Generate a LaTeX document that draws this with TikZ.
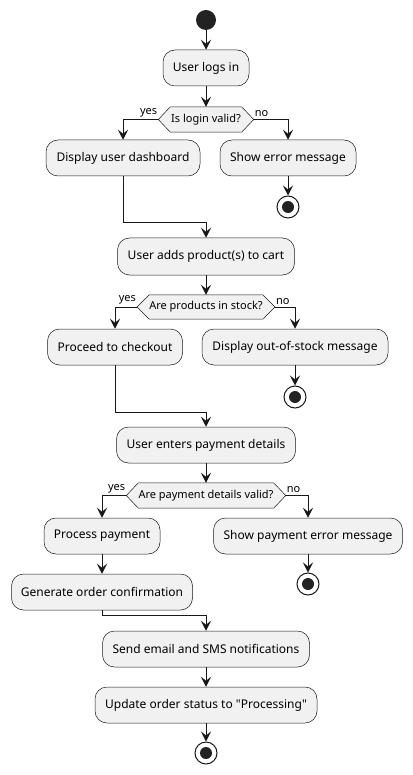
\documentclass[tikz,border=0pt]{standalone}
\usepackage{fontspec}
\setmainfont{Noto Sans}
\newfontfamily\plainsans{Noto Sans}
\usetikzlibrary{arrows.meta,backgrounds}
\definecolor{actfill}{HTML}{F1F1F1}
\definecolor{ink}{HTML}{181818}
\definecolor{dot}{HTML}{222222}
\tikzset{
  act/.style={draw=ink, fill=actfill, line width=0.5pt, rounded corners=12pt, minimum height=36pt, inner sep=0pt, font=\plainsans\fontsize{12pt}{14pt}\selectfont},
  dec/.style={draw=none, minimum height=25pt, inner sep=0pt, font=\plainsans\fontsize{11pt}{13pt}\selectfont},
  hexline/.style={draw=ink, fill=actfill, line width=0.5pt},
  lbl/.style={inner sep=1pt, font=\plainsans\fontsize{11pt}{13pt}\selectfont},
  flow/.style={draw=ink, line width=1pt, -{Stealth[length=10pt,width=10pt,inset=4pt]}},
  startdot/.style={circle, fill=dot, minimum size=20pt, inner sep=0pt},
  stopdot/.style={circle, draw=ink, fill=white, line width=1pt, minimum size=22pt, inner sep=0pt,
    path picture={\fill[dot] (path picture bounding box.center) circle (6pt);}},
}
\newcommand\hexagonize[1]{%
  \begin{scope}[on background layer]
  \draw[hexline] ([xshift=-12pt]#1.west) -- (#1.north west) -- (#1.north east) -- ([xshift=12pt]#1.east) -- (#1.south east) -- (#1.south west) -- cycle;
  \end{scope}
  \coordinate (#1-l) at ([xshift=-12pt]#1.west);
  \coordinate (#1-r) at ([xshift=12pt]#1.east);}
\begin{document}
\begin{tikzpicture}[x=1pt,y=-1pt]
\useasboundingbox (0,0) rectangle (412,775);
\node[startdot] (start) at (206,20) {};
\node[act, minimum width=86pt] (a1) at (206,68) {User logs in};
\node[dec, minimum width=71pt] (d1) at (206,119.5) {Is login valid?};
\hexagonize{d1}
\node[act, minimum width=154pt] (b1) at (123,158) {Display user dashboard};
\node[act, minimum width=136pt] (e1) at (288,158) {Show error message};
\node[stopdot] (s1) at (288,207) {};
\coordinate (m1) at (206,223);

\node[act, minimum width=177pt, minimum height=37pt] (a2) at (206,256.5) {User adds product(s) to cart};
\node[dec, minimum width=113pt, minimum height=24pt] (d2) at (206,307) {Are products in stock?};
\hexagonize{d2}
\node[act, minimum width=135pt] (b2) at (115,347) {Proceed to checkout};
\node[act, minimum width=186pt] (e2) at (295,347) {Display out-of-stock message};
\node[stopdot] (s2) at (295,397) {};
\coordinate (m2) at (206,412);

\node[act, minimum width=179pt] (a3) at (206,445) {User enters payment details};
\node[dec, minimum width=135pt] (d3) at (206,495.5) {Are payment details valid?};
\hexagonize{d3}
\node[act, minimum width=116pt] (b3) at (102,536) {Process payment};
\node[act, minimum width=189pt] (e3) at (308,536) {Show payment error message};
\node[stopdot] (s3) at (308,584) {};
\node[act, minimum width=181pt] (c3) at (102,592) {Generate order confirmation};
\coordinate (m3) at (206,615);

\node[act, minimum width=207pt] (a4) at (206,649) {Send email and SMS notifications};
\node[act, minimum width=222pt] (a5) at (206,705) {Update order status to "Processing"};
\node[stopdot] (s4) at (206,753) {};

% connectors
\draw[flow] (start) -- (a1);
\draw[flow] (a1) -- (d1.north);
\draw[flow] (d1-l) -| (b1.north);
\draw[flow] (d1-r) -| (e1.north);
\node[lbl, anchor=south east] at ([yshift=1.5pt]d1-l) {yes};
\node[lbl, anchor=south west] at ([yshift=1.5pt]d1-r) {no};
\draw[flow] (e1) -- (s1);
\draw[flow] (b1.south) |- (m1) -- (a2.north);

\draw[flow] (a2) -- (d2.north);
\draw[flow] (d2-l) -| (b2.north);
\draw[flow] (d2-r) -| (e2.north);
\node[lbl, anchor=south east] at ([yshift=1.5pt]d2-l) {yes};
\node[lbl, anchor=south west] at ([yshift=1.5pt]d2-r) {no};
\draw[flow] (e2) -- (s2);
\draw[flow] (b2.south) |- (m2) -- (a3.north);

\draw[flow] (a3) -- (d3.north);
\draw[flow] (d3-l) -| (b3.north);
\draw[flow] (d3-r) -| (e3.north);
\node[lbl, anchor=south east] at ([yshift=1.5pt]d3-l) {yes};
\node[lbl, anchor=south west] at ([yshift=1.5pt]d3-r) {no};
\draw[flow] (e3) -- (s3);
\draw[flow] (b3) -- (c3);
\draw[flow] (c3.south) |- (m3) -- (a4.north);

\draw[flow] (a4) -- (a5);
\draw[flow] (a5) -- (s4);
\end{tikzpicture}
\end{document}
